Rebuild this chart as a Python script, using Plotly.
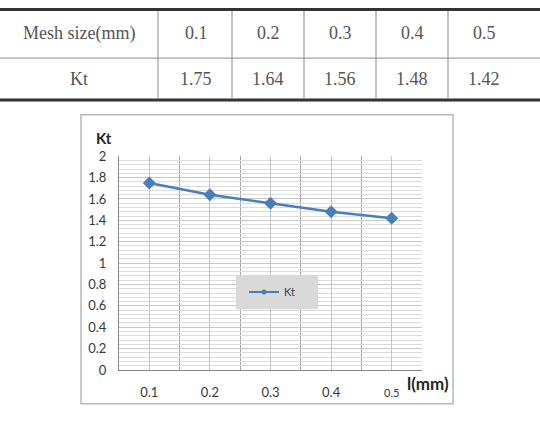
import plotly.graph_objects as go

# ---- data ----
mesh_labels = ["0.1", "0.2", "0.3", "0.4", "0.5"]
mesh_size = [0.1, 0.2, 0.3, 0.4, 0.5]
kt_values = [1.75, 1.64, 1.56, 1.48, 1.42]
kt_labels = ["1.75", "1.64", "1.56", "1.48", "1.42"]
table_row_headers = ["Mesh size(mm)", "Kt"]
series_name = "Kt"
y_title = "Kt"
x_title = "l(mm)"

W, H = 540, 428


def fx(px):
    return px / W


def fy(py):
    return 1 - py / H


fig = go.Figure()

fig.add_trace(go.Scatter(
    x=mesh_size, y=kt_values, mode="lines+markers", name=series_name,
    line=dict(color="#4a7ebb", width=2.5),
    marker=dict(symbol="diamond", size=10, color="#4a7ebb"),
    showlegend=False,
))
# legend entry (small round marker as in the reference legend)
fig.add_trace(go.Scatter(
    x=[None], y=[None], mode="lines+markers", name=series_name,
    line=dict(color="#4a7ebb", width=2),
    marker=dict(symbol="circle", size=5, color="#4a7ebb"),
    showlegend=True,
))

tick_font = dict(family="Lato", size=13, color="#383838")
ticktext = mesh_labels[:-1] + ["<span style='font-size:11px'>%s</span>" % mesh_labels[-1]]

fig.update_layout(
    width=W, height=H,
    margin=dict(l=0, r=0, t=0, b=0, pad=0),
    paper_bgcolor="white", plot_bgcolor="white",
    xaxis=dict(
        domain=[fx(119), fx(422)],
        range=[0.05, 0.55], tickvals=mesh_size, ticktext=ticktext,
        showgrid=True, gridcolor="#c4c4c4", gridwidth=1,
        minor=dict(tick0=0.05, dtick=0.1, showgrid=True, gridcolor="#a6a6a6", gridwidth=1, ticks=""),
        showline=True, linecolor="#868686", linewidth=1,
        zeroline=False, ticks="", ticklabelstandoff=10,
        tickfont=tick_font,
    ),
    yaxis=dict(
        domain=[fy(376), fy(154)],
        range=[0, 2], dtick=0.2, tick0=0,
        showgrid=True, gridcolor="#c8c8c8", gridwidth=1,
        minor=dict(dtick=0.04, showgrid=True, gridcolor="#dcdcdc", gridwidth=1, ticks=""),
        showline=True, linecolor="#868686", linewidth=1,
        zeroline=False, ticks="", ticklabelstandoff=9,
        tickfont=tick_font,
    ),
    legend=dict(
        x=fx(244), y=fy(295), xanchor="left", yanchor="middle",
        bgcolor="rgba(0,0,0,0)", borderwidth=0,
        font=dict(family="Lato", size=11, color="#404040"),
    ),
)

shapes = []
# chart area border
shapes.append(dict(type="rect", xref="paper", yref="paper",
                   x0=fx(81), x1=fx(453), y0=fy(411), y1=fy(111),
                   line=dict(color="#b8b8b8", width=1.5), layer="below"))
# legend box
shapes.append(dict(type="rect", xref="paper", yref="paper",
                   x0=fx(236), x1=fx(318), y0=fy(313), y1=fy(278),
                   fillcolor="#d9d9d9", line=dict(width=0), layer="above"))

# ---- table drawn on top ----
col_edges = [0, 158, 232, 304, 376, 448, 540]
shapes.append(dict(type="line", xref="paper", yref="paper", x0=0, x1=1, y0=fy(1.5), y1=fy(1.5),
                   line=dict(color="#333333", width=3)))
shapes.append(dict(type="line", xref="paper", yref="paper", x0=0, x1=1, y0=fy(52), y1=fy(52),
                   line=dict(color="#8c8c8c", width=1)))
shapes.append(dict(type="line", xref="paper", yref="paper", x0=0, x1=1, y0=fy(95.5), y1=fy(95.5),
                   line=dict(color="#333333", width=3)))
for e in col_edges[1:-1]:
    shapes.append(dict(type="line", xref="paper", yref="paper", x0=fx(e), x1=fx(e),
                       y0=fy(3), y1=fy(94), line=dict(color="#8c8c8c", width=1)))

annotations = []
table_font = dict(family="Liberation Serif", size=18, color="#555555")
row_centers = [26, 74]
header_cx = 79
for r, (hdr, vals) in enumerate(zip(table_row_headers, [mesh_labels, kt_labels])):
    annotations.append(dict(x=fx(header_cx), y=fy(row_centers[r]), xref="paper", yref="paper",
                            text=hdr, showarrow=False, xanchor="center", yanchor="middle",
                            font=table_font))
    for c, v in enumerate(vals):
        cx = 196 + 72 * c
        annotations.append(dict(x=fx(cx), y=fy(row_centers[r]), xref="paper", yref="paper",
                                text=v, showarrow=False, xanchor="center", yanchor="middle",
                                font=table_font))

# axis titles
annotations.append(dict(x=fx(94), y=fy(135), xref="paper", yref="paper", text="<b>%s</b>" % y_title,
                        showarrow=False, xanchor="left", yanchor="middle",
                        font=dict(family="Lato", size=15, color="#262626")))
annotations.append(dict(x=fx(405), y=fy(390), xref="paper", yref="paper", text="<b>%s</b>" % x_title,
                        showarrow=False, xanchor="left", yanchor="middle",
                        font=dict(family="Lato", size=17, color="#262626")))

fig.update_layout(shapes=shapes, annotations=annotations)

fig.write_html("out.html")
